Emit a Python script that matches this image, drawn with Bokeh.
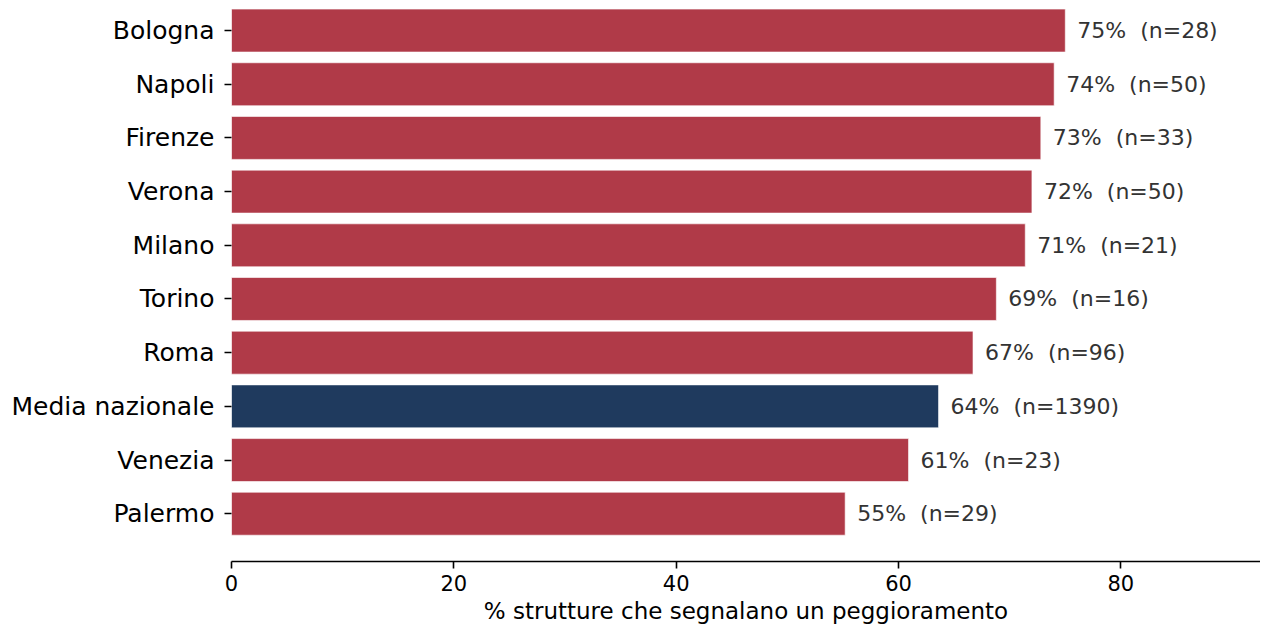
from bokeh.plotting import figure
from bokeh.models import Range1d, FixedTicker, ColumnDataSource
from bokeh.core.properties import value
from bokeh.embed import file_html
from bokeh.resources import INLINE

cities = ["Bologna", "Napoli", "Firenze", "Verona", "Milano", "Torino", "Roma",
          "Media nazionale", "Venezia", "Palermo"]
pct = [75.0, 74.0, 72.8, 72.0, 71.4, 68.8, 66.7, 63.6, 60.9, 55.2]
n_obs = [28, 50, 33, 50, 21, 16, 96, 1390, 23, 29]
x_ticks = [0, 20, 40, 60, 80]

RED = "#b03a48"
NAVY = "#1f3a5e"
FONT = "DejaVu Sans"

k = len(cities)
ypos = [k - 1 - i for i in range(k)]
colors = [NAVY if c == "Media nazionale" else RED for c in cities]
labels = [f"{round(v):.0f}%\u00a0 (n={n})" for v, n in zip(pct, n_obs)]

src = ColumnDataSource(dict(y=ypos, right=pct, color=colors, label=labels, city=cities))

p = figure(width=1260, height=626, output_backend="svg", toolbar_location=None,
           x_range=Range1d(0, 92.56), y_range=Range1d(-0.89, 9.56),
           min_border_left=231, min_border_right=0, min_border_top=0, min_border_bottom=0)

p.hbar(y="y", right="right", left=0, height=0.8, color="color", line_color="white",
       line_width=0.6, source=src)
p.text(x="right", y="y", text="label", source=src, x_offset=12,
       text_baseline="middle", text_align="left", text_color="#333333",
       text_font=value(FONT), text_font_size="22px")

p.outline_line_color = None
p.xgrid.visible = False
p.ygrid.visible = False

xa = p.xaxis[0]
xa.ticker = FixedTicker(ticks=x_ticks)
xa.axis_label = "% strutture che segnalano un peggioramento"
xa.axis_label_text_font = FONT
xa.axis_label_text_font_size = "23px"
xa.axis_label_text_font_style = "normal"
xa.axis_label_text_color = "black"
xa.axis_label_standoff = 4
xa.major_label_text_font = FONT
xa.major_label_text_font_size = "21px"
xa.major_label_text_color = "black"
xa.major_label_standoff = 6
xa.axis_line_width = 1.6
xa.axis_line_color = "black"
xa.major_tick_line_width = 1.6
xa.major_tick_out = 7
xa.major_tick_in = 0
xa.minor_tick_line_color = None

ya = p.yaxis[0]
ya.ticker = FixedTicker(ticks=ypos)
ya.major_label_overrides = {y: c for y, c in zip(ypos, cities)}
ya.axis_line_color = None
ya.major_label_text_font = FONT
ya.major_label_text_font_size = "25px"
ya.major_label_text_color = "black"
ya.major_label_standoff = 10
ya.major_tick_line_width = 1.6
ya.major_tick_out = 7
ya.major_tick_in = 0
ya.minor_tick_line_color = None

open("out.html", "w").write(file_html(p, INLINE))
